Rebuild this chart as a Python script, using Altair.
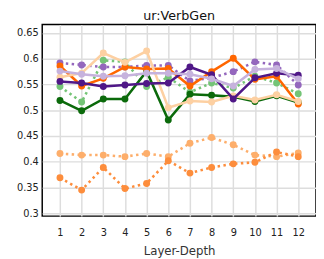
import altair as alt
import pandas as pd

layers_x = list(range(1, 13))
y_ticks = [0.3, 0.35, 0.4, 0.45, 0.5, 0.55, 0.6, 0.65]

dark_green = [0.519, 0.499, 0.522, 0.522, 0.576, 0.481, 0.531, 0.529, 0.526, 0.517, 0.528, 0.515]
orange = [0.586, 0.547, 0.562, 0.584, 0.580, 0.581, 0.547, 0.575, 0.601, 0.560, 0.566, 0.512]
peach = [0.564, 0.572, 0.611, 0.593, 0.615, 0.505, 0.518, 0.516, 0.528, 0.520, 0.530, 0.517]
dark_purple = [0.556, 0.553, 0.546, 0.549, 0.552, 0.553, 0.584, 0.569, 0.522, 0.563, 0.572, 0.568]
lavender = [0.576, 0.570, 0.566, 0.567, 0.572, 0.572, 0.570, 0.561, 0.547, 0.579, 0.581, 0.561]
mid_purple = [0.592, 0.588, 0.584, 0.584, 0.587, 0.587, 0.557, 0.563, 0.575, 0.594, 0.588, 0.549]
light_green = [0.546, 0.516, 0.597, 0.594, 0.546, 0.564, 0.535, 0.553, 0.543, 0.566, 0.553, 0.532]
orange_dot = [0.369, 0.345, 0.389, 0.348, 0.358, 0.402, 0.378, 0.389, 0.396, 0.399, 0.419, 0.410]
light_orange_dot = [0.416, 0.413, 0.413, 0.410, 0.416, 0.410, 0.436, 0.447, 0.433, 0.413, 0.410, 0.417]

series = [
    ("light_orange_dot", light_orange_dot, "#fdae6b", True),
    ("orange_dot", orange_dot, "#fd8d3c", True),
    ("light_green", light_green, "#74c476", True),
    ("mid_purple", mid_purple, "#9467bd", True),
    ("dark_green", dark_green, "#0b6a0b", False),
    ("orange", orange, "#ff6600", False),
    ("peach", peach, "#fdd0a2", False),
    ("dark_purple", dark_purple, "#4f1787", False),
    ("lavender", lavender, "#c6b2dd", False),
]

x_scale = alt.Scale(domain=[0.18, 12.82], nice=False, zero=False)
y_scale = alt.Scale(domain=[0.2945, 0.6665], nice=False, zero=False)

x_axis = alt.Axis(values=layers_x, title="Layer-Depth", grid=True, ticks=False,
                  labelPadding=12, titlePadding=8, labelFontSize=10, titleFontSize=12,
                  labelFont="DejaVu Sans", titleFont="DejaVu Sans", titleFontWeight="normal",
                  labelColor="#222", titleColor="#333", domain=False,
                  gridColor="#dddddd", gridWidth=1.5, labelAngle=0)
y_axis = alt.Axis(values=y_ticks, title=None, grid=True, format="~g",
                  ticks=False, labelPadding=4, labelFontSize=10, labelFont="DejaVu Sans",
                  labelColor="#222", domain=False, gridColor="#dddddd", gridWidth=1.5)

charts = []
for name, vals, color, dotted in series:
    df = pd.DataFrame({"layer": layers_x, "score": vals})
    base = alt.Chart(df).encode(
        x=alt.X("layer:Q", scale=x_scale, axis=x_axis),
        y=alt.Y("score:Q", scale=y_scale, axis=y_axis),
    )
    line_kwargs = dict(color=color, strokeWidth=2.6, clip=True)
    if dotted:
        line_kwargs["strokeDash"] = [2.5, 3.5]
    charts.append(base.mark_line(**line_kwargs))
    charts.append(base.mark_circle(color=color, size=50, opacity=1, clip=True))

chart = alt.layer(*charts).properties(
    width=280,
    height=196,
    title=alt.TitleParams("ur:VerbGen", fontSize=13, font="DejaVu Sans", fontWeight="normal",
                          color="#111", offset=2),
    autosize=alt.AutoSizeParams(type="none"),
    padding={"left": 35, "top": 14, "right": 0, "bottom": 42},
).configure_view(stroke="black", strokeWidth=1.5)

chart.save("out.html", embed_options={"renderer": "svg", "actions": False})
